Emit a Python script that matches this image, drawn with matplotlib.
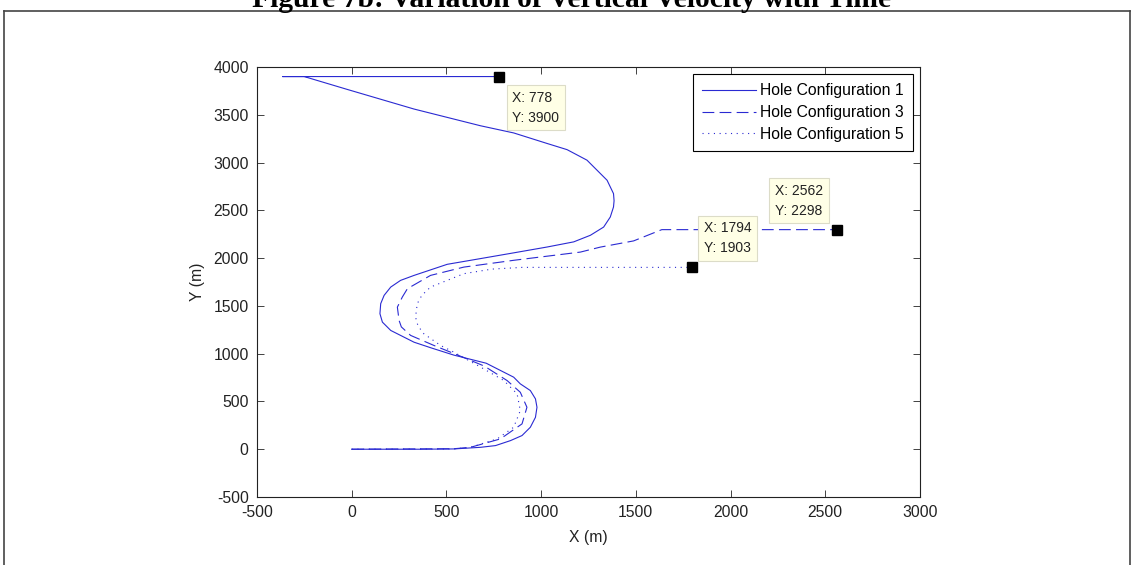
import matplotlib
matplotlib.use("Agg")
import matplotlib.pyplot as plt
from matplotlib.lines import Line2D

# path (m)
x_hole1 = [0, 364, 539, 680, 759, 838, 899, 943, 970, 978, 970, 943, 890, 855, 710, 539, 420,
           329, 206, 162, 149, 153, 171, 206, 258, 329, 504, 680, 855, 1031, 1172, 1260, 1330,
           1365, 1382, 1385, 1382, 1348, 1295, 1242, 1137, 1031, 855, 680, 329, -23, -251, -365, 778]
y_hole1 = [0, 0, 3, 20, 38, 90, 143, 230, 334, 439, 527, 614, 684, 754, 900, 985, 1060,
           1120, 1243, 1330, 1418, 1523, 1610, 1697, 1767, 1819, 1935, 1995, 2055, 2116, 2170, 2239, 2325,
           2430, 2535, 2600, 2675, 2815, 2920, 3025, 3135, 3200, 3310, 3385, 3560, 3765, 3900, 3900, 3900]

x_hole3 = [0, 539, 627, 785, 899, 925, 890, 820, 700, 560, 434, 311, 262, 250, 241, 267, 294, 416,
           592, 855, 1207, 1312, 1488, 1637, 2562]
y_hole3 = [0, 5, 20, 108, 265, 439, 596, 719, 870, 985, 1086, 1191, 1280, 1348, 1487, 1592, 1680, 1819,
           1906, 1977, 2063, 2115, 2180, 2298, 2298]

x_hole5 = [0, 539, 627, 768, 855, 890, 873, 803, 680, 539, 469, 381, 350, 337, 346, 370, 416, 592,
           740, 900, 1794]
y_hole5 = [0, 3, 20, 108, 230, 404, 580, 719, 860, 1016, 1086, 1208, 1290, 1382, 1523, 1610, 1697, 1837,
           1885, 1903, 1903]

labels = ["Hole Configuration 1", "Hole Configuration 3", "Hole Configuration 5"]

# data tips
tip_x = [778, 2562, 1794]
tip_y = [3900, 2298, 1903]

plt.rcParams["font.family"] = ["Liberation Sans", "DejaVu Sans"]
plt.rcParams["lines.scale_dashes"] = False
plt.rcParams["axes.unicode_minus"] = False

blue = "#2a2ad2"
ink = "#222222"

fig = plt.figure(figsize=(11.33, 5.65), dpi=100)
ax = fig.add_axes([257 / 1133, 68 / 565, 663 / 1133, 430 / 565])

ax.plot(x_hole1, y_hole1, color=blue, lw=0.8, label=labels[0])
ax.plot(x_hole3, y_hole3, color=blue, lw=0.8, dashes=(8.5, 3.8), label=labels[1])
ax.plot(x_hole5, y_hole5, color=blue, lw=0.8, dashes=(0.8, 3.3), label=labels[2])

ax.plot(tip_x, tip_y, "s", color="k", ms=7, zorder=5)

# data tip boxes: (offset x, offset y, va) in pixels
tip_place = [(13, -14, "top"), (-62, 12, "bottom"), (12, 12, "bottom")]
for tx, ty, (dx, dy, va) in zip(tip_x, tip_y, tip_place):
    ax.annotate(f"X: {tx}\nY: {ty}", (tx, ty), xytext=(dx, dy), textcoords="offset pixels",
                ha="left", va=va, fontsize=10, linespacing=1.55, color=ink,
                bbox=dict(boxstyle="square,pad=0.4", fc="#ffffe6", ec="#dcdcc8", lw=0.8),
                zorder=6)

ax.set_xlim(-500, 3000)
ax.set_ylim(-500, 4000)
ax.set_xticks(range(-500, 3001, 500))
ax.set_yticks(range(-500, 4001, 500))
ax.tick_params(direction="in", top=True, right=True, length=4.8, width=0.6,
               labelsize=11.3, pad=6, colors=ink)
for s in ax.spines.values():
    s.set_linewidth(0.8)
    s.set_color(ink)

ax.set_xlabel("X (m)", fontsize=11.3, labelpad=7, color=ink)
ax.set_ylabel("Y (m)", fontsize=11.3, labelpad=6, color=ink)

leg = ax.legend(loc="upper right", fontsize=11.3, frameon=True, fancybox=False,
                edgecolor="black", framealpha=1, borderaxespad=0.45, borderpad=0.6,
                handlelength=3.4, handletextpad=0.25, labelspacing=0.42)
leg.get_frame().set_linewidth(0.8)

fig.text(571.5 / 1133, 1 - 7 / 565, "Figure 7b: Variation of Vertical Velocity with Time",
         ha="center", va="baseline", fontsize=21.3, fontweight="bold",
         family=["Liberation Serif", "DejaVu Serif"])

# page frame
frame = dict(color="#444444", lw=1.2, transform=fig.transFigure)
fig.add_artist(Line2D([4 / 1133, 1130 / 1133], [1 - 11 / 565, 1 - 11 / 565], **frame))
fig.add_artist(Line2D([4 / 1133, 4 / 1133], [0, 1 - 11 / 565], **frame))
fig.add_artist(Line2D([1130 / 1133, 1130 / 1133], [0, 1 - 11 / 565], **frame))

fig.savefig("out.png", dpi=100)
